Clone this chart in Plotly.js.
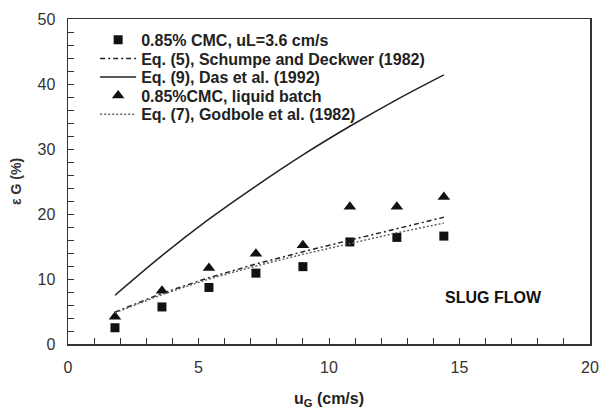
<!DOCTYPE html>
<html>
<head>
<meta charset="utf-8">
<script src="https://cdn.plot.ly/plotly-3.0.1.min.js"></script>
<style>html,body{margin:0;padding:0;background:#fff;}#chart{width:601px;height:409px;}</style>
</head>
<body>
<div id="chart"></div>
<script>
// Superficial gas velocity uG (cm/s)
const uG = [1.8, 3.6, 5.4, 7.2, 9.0, 10.8, 12.6, 14.4];
// 0.85% CMC, uL = 3.6 cm/s (squares)
const cmcFlow = [2.5, 5.7, 8.7, 10.9, 11.9, 15.7, 16.4, 16.6];
// 0.85% CMC, liquid batch (triangles)
const cmcBatch = [4.2, 8.2, 11.7, 13.9, 15.2, 21.1, 21.1, 22.6];
// Eq. (5) Schumpe and Deckwer (1982)
const eqSchumpe = [4.9, 7.8, 10.2, 12.3, 14.2, 16.0, 17.8, 19.5];
// Eq. (9) Das et al. (1992)
const eqDas = [7.5, 13.6, 19.2, 24.3, 29.1, 33.5, 37.6, 41.4];
// Eq. (7) Godbole et al. (1982)
const eqGodbole = [4.8, 7.6, 10.0, 12.0, 13.8, 15.5, 17.1, 18.6];

const names = [
  "0.85% CMC, uL=3.6 cm/s",
  "Eq. (5), Schumpe and Deckwer (1982)",
  "Eq. (9), Das et al. (1992)",
  "0.85%CMC, liquid batch",
  "Eq. (7), Godbole et al. (1982)"
];

const traces = [
  {x: uG, y: cmcFlow, name: names[0], mode: "markers", type: "scatter",
   marker: {symbol: "square", size: 9, color: "#111"}},
  {x: uG, y: eqSchumpe, name: names[1], mode: "lines", type: "scatter",
   line: {color: "#222", width: 1.5, dash: "5px,3px,2px,3px"}},
  {x: uG, y: eqDas, name: names[2], mode: "lines", type: "scatter",
   line: {color: "#222", width: 1.5, shape: "spline"}},
  {x: uG, y: cmcBatch, name: names[3], mode: "markers", type: "scatter",
   marker: {symbol: "triangle-up", size: 11, color: "#111"}},
  {x: uG, y: eqGodbole, name: names[4], mode: "lines", type: "scatter",
   line: {color: "#666", width: 1.5, dash: "2px,2px"}}
];

const FONT = "Liberation Sans, Arial, sans-serif";

const axisCommon = {
  showline: true, linecolor: "#333", linewidth: 1.5, mirror: true,
  showgrid: false, zeroline: false,
  ticks: "inside", ticklen: 6, tickcolor: "#333", tickwidth: 1,
  tickfont: {family: FONT, size: 16, color: "#333"}
};

const layout = {
  width: 601, height: 409,
  margin: {l: 68, r: 11, t: 19, b: 65},
  paper_bgcolor: "#fff", plot_bgcolor: "#fff",
  font: {family: FONT, color: "#222"},
  showlegend: true,
  legend: {
    x: 0.052, y: 0.988, xanchor: "left", yanchor: "top",
    bgcolor: "rgba(0,0,0,0)", borderwidth: 0,
    itemwidth: 36, tracegroupgap: 0,
    font: {family: FONT, size: 16, color: "#222", weight: "bold"}
  },
  xaxis: Object.assign({}, axisCommon, {
    range: [0, 20], dtick: 5, tick0: 0,
    minor: {dtick: 1, ticks: "inside", ticklen: 6, tickcolor: "#333"},
    ticklabelstandoff: 8,
    title: {text: "<b>u<sub>G</sub> (cm/s)</b>", standoff: 18,
            font: {family: FONT, size: 16, color: "#222"}}
  }),
  yaxis: Object.assign({}, axisCommon, {
    range: [0, 50], dtick: 10, tick0: 0,
    minor: {dtick: 2, ticks: "inside", ticklen: 6, tickcolor: "#333"},
    ticklabelstandoff: 8,
    title: {text: "<b>ε G (%)</b>", standoff: 12,
            font: {family: FONT, size: 14, color: "#333"}}
  }),
  annotations: [{
    x: 16.3, y: 7.1, xref: "x", yref: "y", showarrow: false,
    text: "<b>SLUG FLOW</b>",
    font: {family: FONT, size: 16, color: "#111"}
  }]
};

Plotly.newPlot("chart", traces, layout, {displayModeBar: false, staticPlot: true}).then(function (gd) {
  // tighten legend row spacing to match the reference
  const items = gd.querySelectorAll(".legend .traces");
  if (!items.length) return;
  const parse = el => {
    const m = /translate\(\s*([-\d.]+)[ ,]+([-\d.]+)\s*\)/.exec(el.getAttribute("transform") || "");
    return m ? [parseFloat(m[1]), parseFloat(m[2])] : [0, 0];
  };
  const first = parse(items[0]);
  items.forEach(function (el, i) {
    const p = parse(el);
    el.setAttribute("transform", "translate(" + p[0] + "," + (first[1] + i * 18.6) + ")");
  });
});
</script>
</body>
</html>
